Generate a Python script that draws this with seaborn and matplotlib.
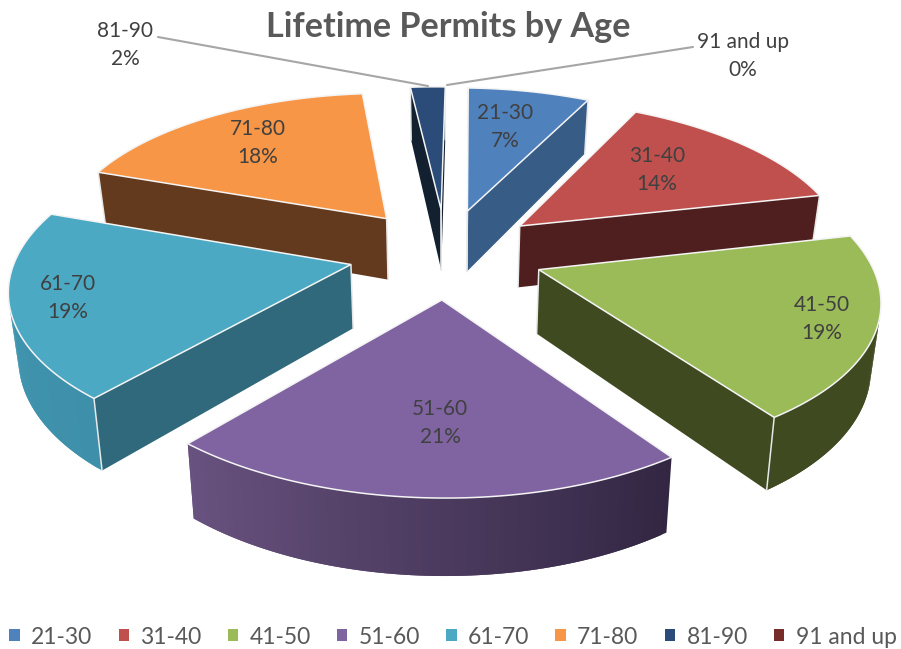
import numpy as np
import matplotlib
matplotlib.use('Agg')
import matplotlib.pyplot as plt
from matplotlib.patches import Patch
import seaborn as sns

age_groups = ['21-30', '31-40', '41-50', '51-60', '61-70', '71-80', '81-90', '91 and up']
shares = [7, 14, 19, 21, 19, 18, 2, 0]

top_colors = ['#4F81BD', '#C0504D', '#9BBB59', '#8064A2', '#4BA9C4', '#F79646', '#2B4C78', '#772C2A']
side_colors = ['#375D87', '#4E1F1E', '#3F4A21', '#66507F', '#2F697B', '#633A1D', '#12202F', '#4E1F1E']
# outer wall gradient, start and end of the arc (clockwise)
rim_colors = [('#375D87', '#375D87'), ('#4E1F1E', '#4E1F1E'), ('#3F4A21', '#3F4A21'),
              ('#322642', '#68527F'), ('#3E90AA', '#4498B2'), ('#633A1D', '#633A1D'),
              ('#12202F', '#12202F'), ('#4E1F1E', '#4E1F1E')]
text_color = '#404040'

# pie geometry, in pixels
cx, cy = 446, 253
radius = 340
explode_x, explode_y = 100, 100
x_scale = 0.975
tilt = 0.45
camera = 2290
depth = 63
base_shrink = 0.977
shear_x, shear_y = 0.010, 0.0125  # the chart is turned a little

# label centres for the wedges
label_pos = {'21-30': (505, 127), '31-40': (657, 170), '41-50': (822, 319), '51-60': (440, 423),
             '61-70': (68, 298), '71-80': (258, 143), '81-90': (125, 45), '91 and up': (743, 56)}
leaders = {'81-90': ((158, 37), (428, 86)), '91 and up': ((693, 47), (447, 85))}


def project(x, y):
    f = camera / (camera + y)
    return cx + x_scale * x * f + shear_x * y, cy - tilt * y * f + shear_y * x, f


def base_of(x, y):
    sx, sy, f = project(x, y)
    return cx + (sx - cx) * base_shrink, sy + depth * f


sns.set_theme(style='white')
plt.rcParams['font.family'] = ['Lato', 'DejaVu Sans']
fig, ax = plt.subplots(figsize=(9.01, 6.49), dpi=100)
ax.set_position([0, 0, 1, 1])
ax.set_xlim(0, 901)
ax.set_ylim(649, 0)
ax.axis('off')

angles = np.cumsum([0] + shares) / sum(shares) * 2 * np.pi
wedges = []
for i, share in enumerate(shares):
    if share == 0:
        continue
    a0, a1 = angles[i], angles[i + 1]
    mid = (a0 + a1) / 2
    ox, oy = explode_x * np.sin(mid), explode_y * np.cos(mid)
    arc = np.linspace(a0, a1, max(int(share * 4), 8))
    pts = [(ox, oy)] + [(ox + radius * np.sin(a), oy + radius * np.cos(a)) for a in arc]
    wedges.append((i, pts, project(ox, oy)[1]))

# back wedges first
wedges.sort(key=lambda w: w[2])

for i, pts, _ in wedges:
    n = len(pts)
    top = [project(*p)[:2] for p in pts]
    bottom = [base_of(*p) for p in pts]
    rim = sns.blend_palette(list(rim_colors[i]), n - 2)
    seams = []
    for j in range(n):
        k = (j + 1) % n
        p, q, pb = np.array(top[j]), np.array(top[k]), np.array(bottom[j])
        e, d = q - p, pb - p
        if e[0] * d[1] - e[1] * d[0] >= 0:
            continue  # faces away from the camera
        is_radial = j == 0 or j == n - 1
        color = side_colors[i] if is_radial else rim[j - 1]
        # rim pieces overlap the next one so no stripes show between them
        k2 = k if is_radial else min(k + 1, n - 1)
        quad = [top[j], top[k2], bottom[k2], bottom[j]]
        ax.fill(*zip(*quad), facecolor=color, edgecolor='none', zorder=2)
        if is_radial:
            seams += [j, k]
    for j in seams:
        ax.plot([top[j][0], bottom[j][0]], [top[j][1], bottom[j][1]],
                color='#E8E8E8', linewidth=1.1, zorder=2)
    ax.fill(*zip(*top), facecolor=top_colors[i], edgecolor='#F4F4F4', linewidth=1.1, zorder=2)

for name, share in zip(age_groups, shares):
    x, y = label_pos[name]
    ax.text(x, y, f'{name}\n{share}%', ha='center', va='center', fontsize=15,
            color=text_color, linespacing=1.55, zorder=4)

for start, end in leaders.values():
    ax.plot([start[0], end[0]], [start[1], end[1]], color='#A6A6A6', linewidth=1.5, zorder=3)

ax.text(448, 27, 'Lifetime Permits by Age', ha='center', va='center', fontsize=24.6,
        fontweight='bold', color='#595959')

handles = [Patch(facecolor=c, edgecolor='none') for c in top_colors]
ax.legend(handles, age_groups, loc='center', bbox_to_anchor=(453 / 901, 1 - 637 / 649), ncol=8, frameon=False,
          fontsize=16.5, labelcolor='#595959', handlelength=0.45, handleheight=0.45,
          handletextpad=0.5, columnspacing=1.14, borderpad=0, borderaxespad=0)

fig.savefig('out.png', dpi=100)
